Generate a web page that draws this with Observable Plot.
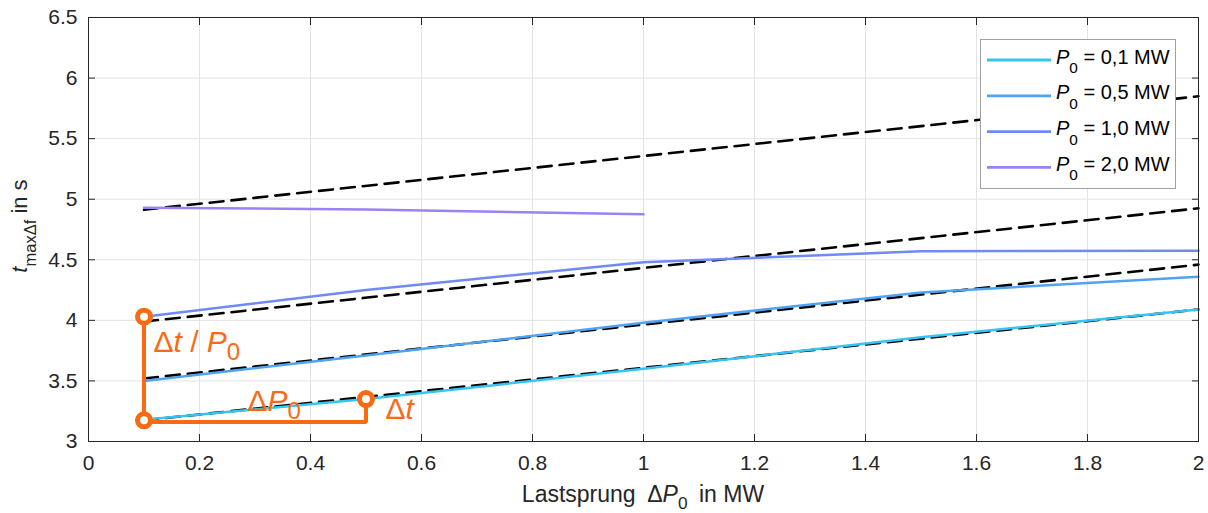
<!DOCTYPE html>
<html><head><meta charset="utf-8">
<script src="https://cdn.jsdelivr.net/npm/d3@7"></script>
<script src="https://cdn.jsdelivr.net/npm/@observablehq/plot@0.6"></script>
<style>
body{margin:0;background:#fff;}
#chart{position:relative;width:1208px;height:513px;}
</style>
</head><body><div id="chart"></div>
<script>
const FONT = "'Liberation Sans', Arial, Helvetica, sans-serif";

// ---- data ----
const xPoints = [0.1, 0.5, 1.0, 1.5, 2.0];
const p01 = [3.18, 3.35, 3.60, 3.86, 4.09];
const p05 = [3.50, 3.71, 3.98, 4.23, 4.36];
const p10 = [4.03, 4.25, 4.48, 4.57, 4.575];
const xP20 = [0.1, 0.5, 1.0];
const p20 = [4.93, 4.915, 4.875];

const fitX = [0.1, 2.0];
const fit01 = [3.175, 4.09];
const fit05 = [3.52, 4.46];
const fit10 = [3.99, 4.925];
const fit20 = [4.913, 5.85];

const seriesLabels = ["*P*_0 = 0,1 MW", "*P*_0 = 0,5 MW", "*P*_0 = 1,0 MW", "*P*_0 = 2,0 MW"];
const seriesColors = ["#35c4f4", "#4fa3f4", "#6f89f6", "#9a82f5"];

const xTicks = [0, 0.2, 0.4, 0.6, 0.8, 1, 1.2, 1.4, 1.6, 1.8, 2];
const yTicks = [3, 3.5, 4, 4.5, 5, 5.5, 6, 6.5];

const xLabel = "Lastsprung\u2002Δ*P*_0\u2002in MW";
const yLabel = "*t*_maxΔf in s";

// orange annotation
const annoPathX = [0.1, 0.1, 0.5, 0.5];
const annoPathY = [4.03, 3.16, 3.16, 3.35];
const markerX = [0.1, 0.1, 0.5];
const markerY = [4.03, 3.175, 3.35];
const annoLabels = ["Δ*t* / *P*_0", "Δ*P*_0", "Δ*t*"];
const annoLabelX = [0.117, 0.2865, 0.535];
const annoLabelY = [3.735, 3.248, 3.182];

const ORANGE = "#fb6a12";

// ---- helpers ----
function plain(s) { return s.replace(/\*/g, "").replace(/_/g, ""); }
function parseRich(s) {
  // *x* italic, _token subscript (until whitespace)
  const segs = [];
  let i = 0, italic = false, buf = "";
  const flush = () => { if (buf) segs.push({t: buf, i: italic, sub: false}); buf = ""; };
  while (i < s.length) {
    const c = s[i];
    if (c === "*") { flush(); italic = !italic; i++; }
    else if (c === "_") {
      flush(); i++;
      let t = "";
      while (i < s.length && !/\s/.test(s[i])) t += s[i++];
      segs.push({t, i: false, sub: true});
    } else { buf += c; i++; }
  }
  flush();
  return segs;
}
function rich(sel, s, size, subShift = 0.42, subScale = 0.75) {
  sel.text(null);
  const segs = parseRich(s);
  let inSub = false;
  for (const g of segs) {
    const t = sel.append("tspan").text(g.t);
    if (g.i) t.attr("font-style", "italic");
    if (g.sub) {
      t.attr("font-size", size * subScale);
      if (!inSub) t.attr("dy", size * subShift);
      inSub = true;
    } else if (inSub) {
      t.attr("dy", -size * subShift);
      inSub = false;
    }
  }
}

// ---- tables ----
const solidSeries = [
  xPoints.map((x, i) => ({x, y: p01[i]})),
  xPoints.map((x, i) => ({x, y: p05[i]})),
  xPoints.map((x, i) => ({x, y: p10[i]})),
  xP20.map((x, i) => ({x, y: p20[i]}))
];
const fitSeries = [fit01, fit05, fit10, fit20].map(f => fitX.map((x, i) => ({x, y: f[i]})));
const annoPath = annoPathX.map((x, i) => ({x, y: annoPathY[i]}));
const markers = markerX.map((x, i) => ({x, y: markerY[i]}));
const annoText = annoLabels.map((t, i) => ({x: annoLabelX[i], y: annoLabelY[i], t: plain(t), raw: t}));

const fmt = d => String(Math.round(d * 10) / 10);

const plot = Plot.plot({
  width: 1208, height: 513,
  marginLeft: 88, marginRight: 10, marginTop: 17, marginBottom: 72,
  x: {domain: [0, 2]},
  y: {domain: [3, 6.5]},
  style: {fontFamily: FONT, fontSize: "21px", color: "#262626", background: "white"},
  marks: [
    Plot.gridX(xTicks, {stroke: "#e3e3e3", strokeOpacity: 1}),
    Plot.gridY(yTicks, {stroke: "#e3e3e3", strokeOpacity: 1}),
    Plot.axisX(xTicks, {anchor: "bottom", tickSize: 0, tickPadding: 14, tickFormat: fmt, label: null}),
    Plot.axisY(yTicks, {anchor: "left", tickSize: 0, tickPadding: 11, tickFormat: fmt, label: null}),
    Plot.axisX(xTicks, {anchor: "bottom", tickSize: 7, dy: -7, tickFormat: () => "", label: null, stroke: "#262626"}),
    Plot.axisX(xTicks, {anchor: "top", tickSize: 7, dy: 7, tickFormat: () => "", label: null, stroke: "#262626"}),
    Plot.axisY(yTicks, {anchor: "left", tickSize: 7, dx: 7, tickFormat: () => "", label: null, stroke: "#262626"}),
    Plot.axisY(yTicks, {anchor: "right", tickSize: 7, dx: -7, tickFormat: () => "", label: null, stroke: "#262626"}),
    ...fitSeries.map(d => Plot.line(d, {x: "x", y: "y", stroke: "black", strokeWidth: 2.6, strokeDasharray: "14,8"})),
    ...solidSeries.map((d, i) => Plot.line(d, {x: "x", y: "y", stroke: seriesColors[i], strokeWidth: 2.5})),
    Plot.line(annoPath, {x: "x", y: "y", stroke: ORANGE, strokeWidth: 4, strokeLinejoin: "miter"}),
    Plot.dot(markers, {x: "x", y: "y", r: 6.5, stroke: ORANGE, strokeWidth: 5, fill: "white"}),
    Plot.text(annoText, {x: "x", y: "y", text: "t", fill: ORANGE, fontSize: 30, textAnchor: "start", lineAnchor: "bottom"}),
    Plot.frame({stroke: "#262626", strokeWidth: 1})
  ]
});

document.getElementById("chart").appendChild(plot);
const svg = d3.select(plot);

// rich text for annotation labels
svg.selectAll("text").each(function() {
  const el = d3.select(this);
  const match = annoText.find(a => a.t === this.textContent);
  if (match && this.children.length === 0) rich(el, match.raw, 30, 0.26, 0.8);
});

const sx = plot.scale("x"), sy = plot.scale("y");
const xMid = (sx.apply(0) + sx.apply(2)) / 2;
const yMid = (sy.apply(3) + sy.apply(6.5)) / 2;

// axis labels
const g = svg.append("g").attr("font-family", FONT).attr("fill", "#262626");
rich(g.append("text").attr("x", xMid).attr("y", 502).attr("text-anchor", "middle").attr("font-size", 23), xLabel, 23, 0.3, 0.75);
rich(g.append("text").attr("transform", `translate(27,${yMid - 3}) rotate(-90)`).attr("text-anchor", "middle").attr("font-size", 22), yLabel, 22, 0.4, 0.75);

// legend
const lg = svg.append("g").attr("font-family", FONT).attr("text-anchor", "start");
lg.append("rect").attr("x", 980.5).attr("y", 39.5).attr("width", 195).attr("height", 149)
  .attr("fill", "white").attr("stroke", "#a0a0a0").attr("stroke-width", 1);
seriesLabels.forEach((lab, i) => {
  const yy = 60 + i * 35.8;
  lg.append("line").attr("x1", 987).attr("x2", 1051).attr("y1", yy).attr("y2", yy)
    .attr("stroke", seriesColors[i]).attr("stroke-width", 2.8);
  rich(lg.append("text").attr("x", 1056).attr("y", yy + 3.5).attr("font-size", 20)
    .attr("text-anchor", "start").attr("fill", "#000"), lab, 20, 0.47, 0.77);
});
</script>
</body></html>
